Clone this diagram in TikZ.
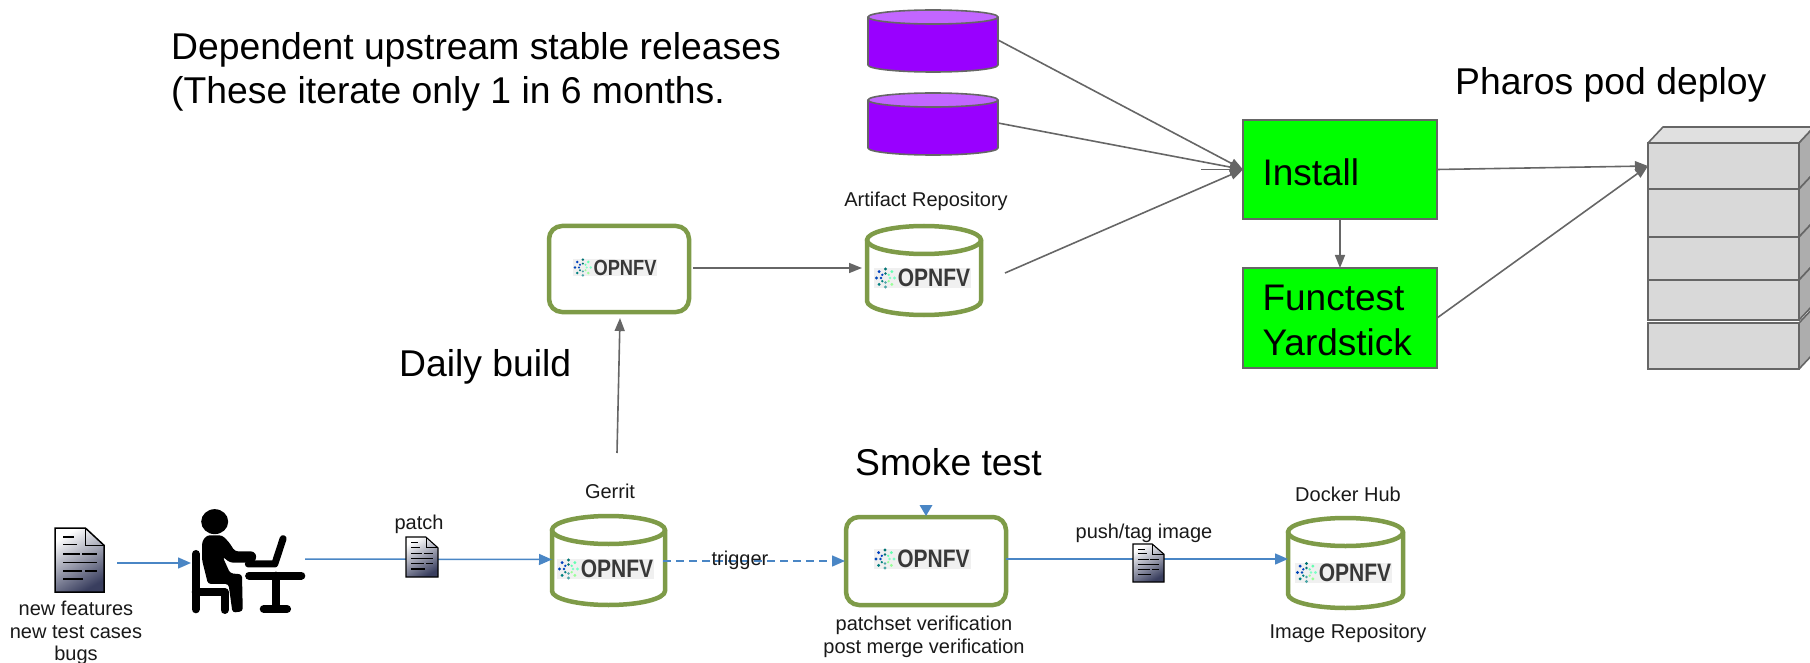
\documentclass[tikz,border=0pt]{standalone}
\usepackage{fontspec}
\usepackage{graphicx}
\setmainfont{Liberation Sans}
\usetikzlibrary{arrows.meta,calc}
\definecolor{opgreen}{RGB}{126,155,72}
\definecolor{flowblue}{RGB}{74,134,197}
\definecolor{linegray}{RGB}{102,102,102}
\definecolor{purplebody}{RGB}{153,0,255}
\definecolor{purpletop}{RGB}{194,102,255}
\definecolor{limebox}{RGB}{0,255,0}
\definecolor{docnavy}{RGB}{22,28,66}
\newcommand\cyldraw[6]{%
  \pgfmathsetmacro\cylr{(#2-#1)/2}
  \path[#6] (#1,#3) -- (#1,#4) arc[start angle=180,end angle=360,x radius=\cylr pt,y radius=#5pt] -- (#2,#3) -- cycle;
  \path[#6,cyltop] ({(#1+#2)/2},#3) ellipse[x radius=\cylr pt,y radius=#5pt];
}
\newcommand\logodraw[4]{%
  \begin{scope}[shift={(#2,#3)},scale=#4,transform shape]
    \fill[logobg] (-48.5,-10) rectangle (48.5,10);
    \foreach \ang/\clr in {0/green!45!cyan!50,45/green!40!white,90/teal!70,135/teal,180/blue!45!teal,225/blue!50!teal,270/teal!90!black,315/green!50!cyan!60}{
      \fill[\clr] ($(-37,0)+({9*cos(\ang)},{9*sin(\ang)})$) circle[radius=1.6pt];
      \fill[\clr] ($(-37,0)+({4.5*cos(\ang)},{4.5*sin(\ang)})$) circle[radius=1.3pt];
    }
    \node[logotext] (#1) at (11.5,0) {\scalebox{1}[1.2]{OPNFV}};
  \end{scope}
}
\newcommand\docdraw[6]{%
  \begin{scope}[shift={(#2,#3)},x=#4pt,y=-#5pt]
    \shade[docshade] (0,0) -- (0.62,0) -- (1,0.27) -- (1,1) -- (0,1) -- cycle;
    \draw[black,line width=#6pt,line join=miter] (0,0) -- (0.62,0) -- (1,0.27) -- (1,1) -- (0,1) -- cycle;
    \draw[black,line width=0.6*#6pt] (0.62,0) -- (0.62,0.27) -- (1,0.27);
    \draw[black,line width=#6pt] (0.17,0.14) -- (0.38,0.14) (0.17,0.26) -- (0.45,0.26) (0.17,0.41) -- (0.5,0.41) (0.56,0.41) -- (0.85,0.41) (0.17,0.54) -- (0.85,0.54) (0.17,0.67) -- (0.55,0.67) (0.62,0.67) -- (0.85,0.67) (0.17,0.8) -- (0.58,0.8);
  \end{scope}
}
\newcommand\lowered[1]{\raisebox{-2.3pt}[\height][\depth]{#1}}
\tikzset{
  greycon/.style={draw=linegray,line width=1.6pt,-{Triangle[length=13pt,width=10pt]}},
  bluecon/.style={draw=flowblue,line width=1.5pt,-{Triangle[length=13pt,width=11pt]}},
  bigtext/.style={font=\fontsize{37.3}{45}\selectfont,inner sep=0pt,anchor=base west,text=black},
  smalltext/.style={font=\fontsize{20}{23}\selectfont,inner sep=0pt,anchor=base,text=black!90},
  hitbox/.style={inner sep=0pt,outer sep=0pt,draw=none},
  greenbox/.style={draw=opgreen,line width=4.5pt,fill=white,rounded corners=13pt,inner sep=0pt,outer sep=0pt},
  limenode/.style={draw=linegray,line width=1.6pt,fill=limebox,inner sep=0pt,outer sep=0pt,minimum width=194pt,text width=155pt,align=left,font=\fontsize{37}{45}\selectfont},
  greencyl/.style={draw=opgreen,line width=4.5pt,fill=white,line join=round},
  purplecyl/.style={draw=linegray,line width=1.6pt,fill=purplebody,line join=round,cyltop/.style={fill=purpletop}},
  cyltop/.style={},
  logobg/.style={fill=black!6},
  logotext/.style={font=\fontsize{21}{21}\selectfont\bfseries,text=black!78,inner sep=0pt},
  docshade/.style={top color=white,middle color=white!92!docnavy,bottom color=docnavy!85,shading angle=30},
  layer/.style={draw=linegray,line width=1.6pt,fill=black!15,inner sep=0pt,outer sep=0pt,minimum width=151pt},
}
\begin{document}
\begin{tikzpicture}[x=1pt,y=-1pt]
\useasboundingbox (0,0) rectangle (1810,663);

% headline texts
\node[bigtext] (deptitle) at (171,60) {Dependent upstream stable releases};
\node[bigtext] (depnote) at (171,104) {(These iterate only 1 in 6 months.};
\node[bigtext] (pharos) at (1455,95) {Pharos pod deploy};
\node[bigtext] (daily) at (399,376) {Daily build};
\node[bigtext] (smoke) at (855,475) {Smoke test};

% purple cylinders
\node[hitbox,minimum width=130pt,minimum height=62pt] (rel1) at (933,40) {};
\node[hitbox,minimum width=130pt,minimum height=62pt] (rel2) at (933,123) {};
\cyldraw{868}{998}{17}{65}{7}{purplecyl}
\cyldraw{868}{998}{100}{148}{7}{purplecyl}

% build box and artifact repository
\node[greenbox,minimum width=140pt,minimum height=86pt] (build) at (619,269) {};
\logodraw{buildlogo}{615}{267.5}{0.87}
\node[hitbox,minimum width=114pt,minimum height=90pt] (artifact) at (924,269) {};
\cyldraw{867}{981}{240}{301}{14}{greencyl}
\logodraw{artifactlogo}{922.5}{278}{1}
\node[smalltext] (artifactlabel) at (926,207) {Artifact Repository};

% install and test
\node[limenode,minimum height=99pt] (install) at (1340,169.5) {\lowered{Install}};
\node[limenode,minimum height=100pt] (functest) at (1340,318) {\lowered{Functest}\\\lowered{Yardstick}};

% server stack
\begin{scope}
  \clip (1640,120) rectangle (1810,380);
  \fill[black!12] (1648,143) -- (1663,127) -- (1814,127) -- (1799,143) -- cycle;
  \draw[linegray,line width=1.6pt,line join=round] (1648,143) -- (1663,127) -- (1814,127) -- (1799,143);
  \foreach \ya/\yb in {143/189,189/237,237/280,280/320,323/369}{
    \filldraw[fill=black!32,draw=linegray,line width=1.6pt,line join=round] (1799,\ya) -- (1814,\ya-16) -- (1814,\yb-16) -- (1799,\yb) -- cycle;
  }
\end{scope}
\node[layer,minimum height=46pt] (layerA) at (1723.5,166) {};
\node[layer,minimum height=48pt] (layerB) at (1723.5,213) {};
\node[layer,minimum height=43pt] (layerC) at (1723.5,258.5) {};
\node[layer,minimum height=40pt] (layerD) at (1723.5,300) {};
\node[layer,minimum height=46pt] (layerE) at (1723.5,346) {};

% bottom row
\node[hitbox,minimum width=49pt,minimum height=64pt] (features) at (79.5,560) {};
\node[hitbox,minimum width=114pt,minimum height=101pt] (person) at (248,561.5) {};
\node[hitbox,minimum width=32pt,minimum height=40pt] (patchdoc) at (422,557) {};
\node[hitbox,minimum width=113pt,minimum height=91pt] (gerrit) at (608.5,559.5) {};
\node[greenbox,minimum width=160pt,minimum height=88pt] (verify) at (926,561) {};
\node[hitbox,minimum width=31pt,minimum height=38pt] (pushdoc) at (1148.5,563) {};
\node[hitbox,minimum width=115pt,minimum height=91pt] (docker) at (1345.5,562.5) {};

\cyldraw{552}{665}{530}{591}{14}{greencyl}
\logodraw{gerritlogo}{605.5}{569}{1}
\logodraw{verifylogo}{922}{559}{1}
\cyldraw{1288}{1403}{532}{594}{14}{greencyl}
\logodraw{dockerlogo}{1343.5}{572.5}{1}

\coordinate (dailystart) at (617,453);
\coordinate (stubstart) at (1201,169.5);

% grey connectors
\draw[greycon] (dailystart) -- ([shift={(1,6)}]build.south);
\draw[greycon] ([shift={(4,-1)}]build.east) -- ([shift={(-5,-1)}]artifact.west);
\draw[greycon] (rel1.east) -- (install.west);
\draw[greycon] (rel2.east) -- (install.west);
\draw[greycon] (stubstart) -- (install.west);
\draw[greycon] ([shift={(24,4)}]artifact.east) -- (install.west);
\draw[greycon] (install.south) -- (functest.north);
\draw[greycon] (install.east) -- (layerA.west);
\draw[greycon] (functest.east) -- (layerA.west);

% blue connectors
\draw[bluecon] ([shift={(13,3)}]features.east) -- ([shift={(0,1.5)}]person.west);
\draw[bluecon] ([shift={(0,-2.5)}]person.east) -- (gerrit.west);
\draw[bluecon,dashed,dash pattern=on 8pt off 5pt,-{Triangle[length=13pt,width=11pt]}] ([shift={(-2,1.5)}]gerrit.east) -- ([shift={(-1,0)}]verify.west);
\draw[bluecon] ([shift={(0,-2)}]verify.east) -- ([shift={(0,-3.5)}]docker.west);
\fill[flowblue] (919.5,505) -- (932.5,505) -- (926,516) -- cycle;

% documents
\docdraw{features}{55}{528}{49}{64}{1.5}
\docdraw{patch}{406}{537}{32}{40}{1.1}
\docdraw{push}{1133}{544}{31}{38}{1.1}

% person at laptop
\begin{scope}[shift={(0,400)},x=0.3954pt,y=-0.3333pt]
  \fill[black] (543,365) ellipse[x radius=13.5pt,y radius=12.5pt];
  \draw[black,line width=8pt,line cap=round,line join=round] (495,462) -- (495,628) (495,576) -- (568,576) -- (568,630);
  \fill[black,rounded corners=3pt] (511,425) -- (523,406) -- (562,406) -- (580,428) -- (594,454) -- (642,454) -- (650,470) -- (642,488) -- (582,488) -- (563,470) -- (582,520) -- (612,523) -- (614,634) -- (588,638) -- (578,552) -- (526,552) -- (511,480) -- cycle;
  \draw[black,line width=7pt,line cap=round,line join=round] (716,416) -- (695,492) -- (628,492);
  \draw[black,line width=8pt,line cap=round] (630,527) -- (762,527) (697,527) -- (697,625) (667,627) -- (726,627);
\end{scope}

% small labels
\node[smalltext] (patchlabel) at (419,529) {patch};
\node[smalltext] (feat1) at (76,615) {new features};
\node[smalltext] (feat2) at (76,638) {new test cases};
\node[smalltext] (feat3) at (76,660) {bugs};
\node[smalltext] (gerritlabel) at (610,498) {Gerrit};
\node[smalltext] (triggerlabel) at (740,565) {trigger};
\node[smalltext] (verify1) at (924,630) {patchset verification};
\node[smalltext] (verify2) at (924,653) {post merge verification};
\node[smalltext] (pushlabel) at (1144,538) {push/tag image};
\node[smalltext] (dockerlabel) at (1348,501) {Docker Hub};
\node[smalltext] (imagelabel) at (1348,638) {Image Repository};
\end{tikzpicture}
\end{document}
